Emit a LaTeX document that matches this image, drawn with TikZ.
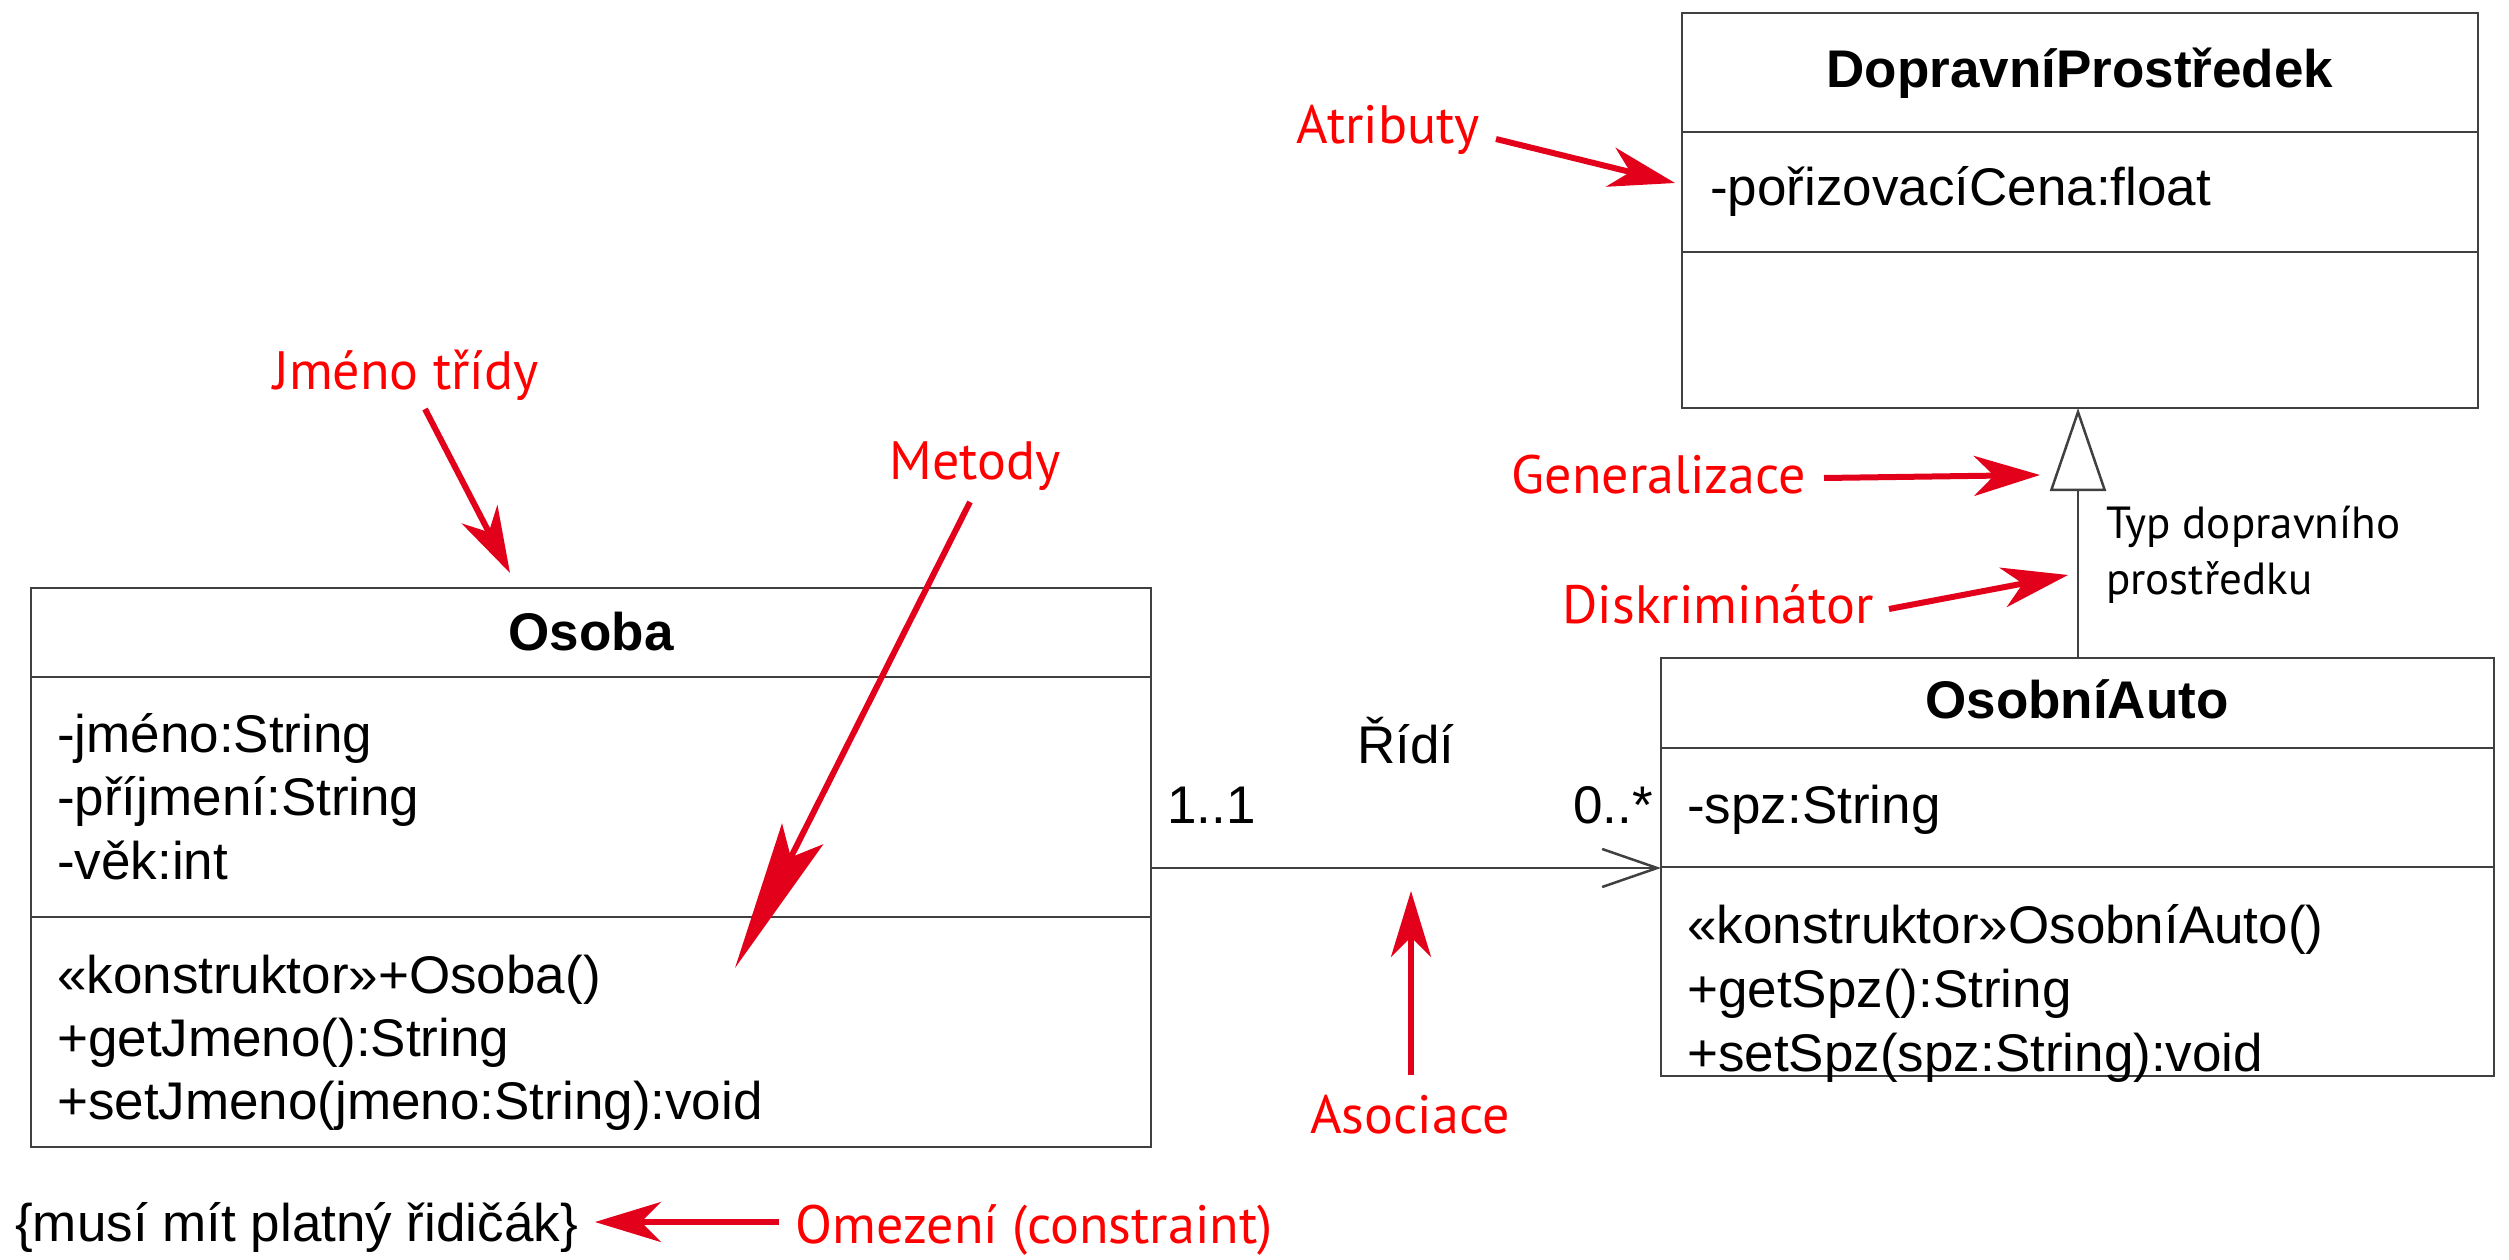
\documentclass[tikz,border=0pt]{standalone}
\usepackage{fontspec}
\setmainfont{Liberation Sans}
\newfontfamily\notefont{PT Sans}
\usetikzlibrary{arrows.meta}
\definecolor{notered}{RGB}{255,0,0}
\definecolor{arrowred}{RGB}{226,0,26}
\definecolor{umlline}{RGB}{64,64,64}

\begin{document}
\begin{tikzpicture}[x=1pt,y=-1pt,
  classbox/.style={draw=umlline, line width=2.5pt, inner sep=0pt, outer sep=0pt, anchor=north west},
  divider/.style={draw=umlline, line width=2.5pt},
  member/.style={anchor=base west, inner sep=0pt, font=\fontsize{53}{64}\selectfont},
  cname/.style={anchor=base, inner sep=0pt, font=\fontsize{53}{64}\selectfont\bfseries},
  plain/.style={inner sep=0pt, font=\fontsize{53}{64}\selectfont},
  smallnote/.style={anchor=base west, inner sep=0pt, font=\fontsize{45}{52}\notefont},
  note/.style={anchor=base, inner sep=0pt, text=notered, font=\fontsize{54}{64}\notefont},
  pointer/.style={draw=arrowred, line width=6pt, -{Stealth[length=66pt,width=40pt,inset=20pt]}},
  longpointer/.style={draw=arrowred, line width=6pt, -{Stealth[length=150pt,width=46pt,inset=26pt]}},
  umlconn/.style={draw=umlline, line width=2.5pt}
]
\useasboundingbox (0,0) rectangle (2509,1260);

% ---- class Osoba ----
\node[classbox, minimum width=1120pt, minimum height=559pt] (osoba) at (31,588) {};
\draw[divider] (osoba.west |- 0,677) -- (osoba.east |- 0,677);
\draw[divider] (osoba.west |- 0,917) -- (osoba.east |- 0,917);
\node[cname] (osobaName) at (591,650) {Osoba};
\node[member] (o1) at (57,752) {-jméno:String};
\node[member] (o2) at (57,815) {-příjmení:String};
\node[member] (o3) at (57,879) {-věk:int};
\node[member] (o4) at (57,993) {«konstruktor»+Osoba()};
\node[member] (o5) at (57,1056) {+getJmeno():String};
\node[member] (o6) at (57,1119) {+setJmeno(jmeno:String):void};

% ---- class DopravníProstředek ----
\node[classbox, minimum width=796pt, minimum height=395pt] (vehicle) at (1682,13) {};
\draw[divider] (vehicle.west |- 0,132) -- (vehicle.east |- 0,132);
\draw[divider] (vehicle.west |- 0,252) -- (vehicle.east |- 0,252);
\node[cname] (vehicleName) at (2080,88) {DopravníProstředek};
\node[member] (v1) at (1710,206) {-pořizovacíCena:float};

% ---- class OsobníAuto ----
\node[classbox, minimum width=833pt, minimum height=418pt] (auto) at (1661,658) {};
\draw[divider] (auto.west |- 0,748) -- (auto.east |- 0,748);
\draw[divider] (auto.west |- 0,867) -- (auto.east |- 0,867);
\node[cname] (autoName) at (2077,718) {OsobníAuto};
\node[member] (a1) at (1687,823) {-spz:String};
\node[member] (a2) at (1687,943) {«konstruktor»OsobníAuto()};
\node[member] (a3) at (1687,1007) {+getSpz():String};
\node[member] (a4) at (1687,1071) {+setSpz(spz:String):void};

% ---- generalization with discriminator ----
\draw[umlconn, -{Triangle[open, length=83pt, width=56pt]}]
  (auto.north -| 2078,0) -- (vehicle.south -| 2078,0);
\node[smallnote] (disc1) at (2106,538) {Typ dopravního};
\node[smallnote] (disc2) at (2106,594) {prostředku};

% ---- association ----
\draw[umlconn, -{Straight Barb[length=55pt, width=38pt]}]
  (osoba.east |- 0,868) -- (auto.west |- 0,868);
\node[plain, anchor=base] (assocName) at (1406,763) {Řídí};
\node[plain, anchor=base west] (multL) at (1167,823) {1..1};
\node[plain, anchor=base east] (multR) at (1653,823) {0..*};

% ---- constraint ----
\node[plain, anchor=base west] (constraint) at (15,1241) {\{musí mít platný řidičák\}};

% ---- annotations ----
\node[note] (nAttr) at (1388,144) {Atributy};
\coordinate (pAttrS) at (1496,139);
\coordinate (pAttrE) at (1675,183);
\draw[pointer] (pAttrS) -- (pAttrE);

\node[note] (nName) at (406,389) {Jméno třídy};
\coordinate (pNameS) at (425,409);
\coordinate (pNameE) at (510,573);
\draw[pointer] (pNameS) -- (pNameE);

\node[note] (nMeth) at (975,479) {Metody};
\coordinate (pMethS) at (970,502);
\coordinate (pMethE) at (735,968);
\draw[longpointer] (pMethS) -- (pMethE);

\node[note] (nGen) at (1659,493) {Generalizace};
\coordinate (pGenS) at (1824,478);
\coordinate (pGenE) at (2040,475);
\draw[pointer] (pGenS) -- (pGenE);

\node[note] (nDisc) at (1718,623) {Diskriminátor};
\coordinate (pDiscS) at (1889,609);
\coordinate (pDiscE) at (2068,575);
\draw[pointer] (pDiscS) -- (pDiscE);

\node[note] (nAssoc) at (1410,1133) {Asociace};
\coordinate (pAssocS) at (1411,1075);
\coordinate (pAssocE) at (1411,891);
\draw[pointer] (pAssocS) -- (pAssocE);

\node[note] (nCons) at (1034,1243) {Omezení (constraint)};
\coordinate (pConsS) at (779,1222);
\coordinate (pConsE) at (595,1222);
\draw[pointer] (pConsS) -- (pConsE);
\end{tikzpicture}
\end{document}
